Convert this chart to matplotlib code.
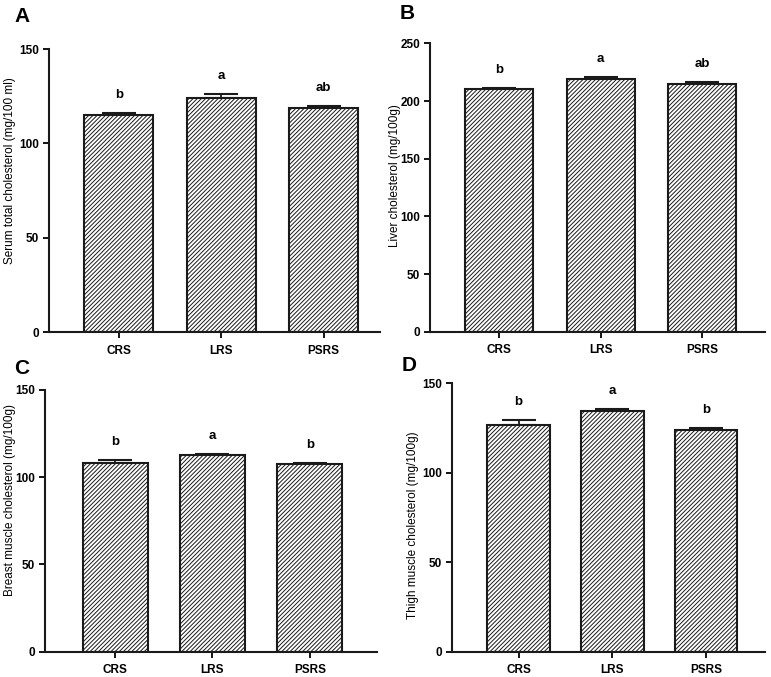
import matplotlib
matplotlib.use("Agg")
import matplotlib.pyplot as plt

plt.rcParams["font.family"] = ["Liberation Sans", "DejaVu Sans"]
plt.rcParams["hatch.linewidth"] = 0.7

# data
groups = ["CRS", "LRS", "PSRS"]

serum_mean = [115.0, 123.9, 118.6]
serum_err = [1.2, 2.2, 1.3]
serum_sig = ["b", "a", "ab"]

liver_mean = [210.4, 219.1, 214.4]
liver_err = [1.1, 1.4, 2.0]
liver_sig = ["b", "a", "ab"]

breast_mean = [108.3, 112.7, 107.4]
breast_err = [1.8, 0.8, 0.8]
breast_sig = ["b", "a", "b"]

thigh_mean = [126.7, 134.6, 123.9]
thigh_err = [2.5, 0.7, 1.0]
thigh_sig = ["b", "a", "b"]

# letter, means, errors, letters, ylabel, ymax, step, axes rect, xlim, ylabel pos (x px offset, y frac)
panels = [
    ("A", serum_mean, serum_err, serum_sig, "Serum total cholesterol (mg/100 ml)", 150, 50,
     [0.0636, 0.5096, 0.4294, 0.418], (-0.68, 2.55), (-39, 0.572)),
    ("B", liver_mean, liver_err, liver_sig, "Liver cholesterol (mg/100g)", 250, 50,
     [0.5577, 0.5100, 0.4345, 0.426], (-0.68, 2.62), (-35, 0.543)),
    ("C", breast_mean, breast_err, breast_sig, "Breast muscle cholesterol (mg/100g)", 150, 50,
     [0.0584, 0.0374, 0.4306, 0.3866], (-0.72, 2.69), (-35, 0.58)),
    ("D", thigh_mean, thigh_err, thigh_sig, "Thigh muscle cholesterol (mg/100g)", 150, 50,
     [0.5863, 0.0374, 0.4060, 0.3966], (-0.71, 2.63), (-39, 0.472)),
]

letter_pos = {"A": (0.028, 0.975), "B": (0.528, 0.98), "C": (0.028, 0.456), "D": (0.53, 0.46)}

fig = plt.figure(figsize=(7.71, 6.77), dpi=100)
W = 771

for letter, means, errs, sig, ylabel, ymax, step, rect, xlim, lab_pos in panels:
    ax = fig.add_axes(rect)
    x = range(len(groups))
    ax.bar(x, means, width=0.67, color="white", edgecolor="#1a1a1a",
           linewidth=1.5, hatch="////////", zorder=2)
    ax.errorbar(x, means, yerr=[[0] * len(errs), errs], fmt="none",
                ecolor="#1a1a1a", elinewidth=1.3, capsize=12, capthick=1.5, zorder=1)
    for xi, m, e, s in zip(x, means, errs, sig):
        ax.annotate(s, (xi, m + e), xytext=(0, 13), textcoords="offset points",
                    ha="center", va="center", fontsize=9.5, fontweight="bold")
    ax.set_ylim(0, ymax)
    ax.set_yticks(range(0, ymax + 1, step))
    ax.set_xlim(*xlim)
    ax.set_xticks(list(x))
    ax.set_xticklabels(groups)
    for sp in ["top", "right"]:
        ax.spines[sp].set_visible(False)
    for sp in ["left", "bottom"]:
        ax.spines[sp].set_linewidth(1.5)
        ax.spines[sp].set_color("#1a1a1a")
    ax.tick_params(axis="both", width=1.3, length=4, labelsize=8.5, pad=3)
    ax.tick_params(axis="x", pad=5)
    for lab in ax.get_xticklabels() + ax.get_yticklabels():
        lab.set_fontweight("bold")
    ax.set_ylabel(ylabel, fontsize=8.5, va="center")
    ax.yaxis.set_label_coords(lab_pos[0] / (rect[2] * W), lab_pos[1])
    fig.text(letter_pos[letter][0], letter_pos[letter][1], letter,
             fontsize=15, fontweight="bold", ha="center", va="center")

fig.savefig("out.png", dpi=100)
